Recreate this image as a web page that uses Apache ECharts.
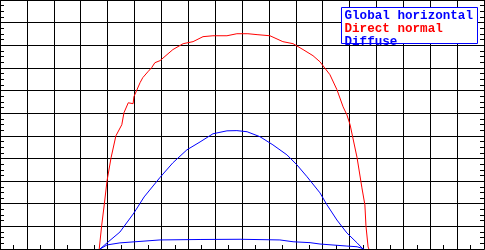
<!DOCTYPE html>
<html>
<head>
<meta charset="utf-8">
<script src="https://cdn.jsdelivr.net/npm/echarts@6/dist/echarts.min.js"></script>
<style>
html,body{margin:0;padding:0;background:#fff;}
#chart{width:485px;height:250px;}
</style>
</head>
<body>
<div id="chart"></div>
<script>
// hours of day vs irradiance (W/m2)
var seriesNames = ['Global horizontal', 'Direct normal', 'Diffuse'];
var seriesColors = ['#0000ff', '#ff0000', '#0000ff'];

var directHours = [6.69,6.78,6.88,6.98,7.13,7.31,7.53,7.61,7.77,7.95,7.98,8.21,8.31,8.50,8.64,8.76,8.95,9.43,9.81,10.18,10.55,10.92,11.44,11.81,12.22,12.56,13.04,13.52,13.90,14.27,14.64,14.90,15.27,15.53,15.76,15.90,16.02,16.28,16.46,16.57,16.61,16.69,16.72];
var directValues = [0,102,199,301,403,500,549,602,646,642,673,735,757,783,801,823,832,881,907,916,938,942,942,951,951,947,942,916,907,881,854,827,770,704,628,593,549,403,270,195,102,9,0];

var globalHours = [6.72,6.98,7.46,7.98,8.36,8.95,9.43,9.95,10.44,10.92,11.44,11.81,12.19,12.67,13.15,13.67,14.04,14.42,14.90,15.16,15.53,15.90,16.28,16.50];
var globalValues = [0,27,75,159,230,316,381,438,473,509,522,523,518,496,460,416,372,319,248,195,128,71,27,0];

var diffuseHours = [6.72,6.98,7.46,8.95,10.44,11.93,13.41,13.90,14.53,14.90,15.90,16.28,16.54];
var diffuseValues = [0,18,27,40,42,43,40,32,28,22,13,10,0];

function pairs(xs, ys) { return xs.map(function (x, i) { return [x, ys[i]]; }); }

var chart = echarts.init(document.getElementById('chart'));

function xAx(pos, grid) {
  return {
    type: 'value', min: 3, max: 21, interval: 1, position: pos,
    axisLine: { show: true, lineStyle: { color: '#000', width: 1 } },
    axisTick: { show: false },
    minorTick: { show: true, splitNumber: 2, length: 4, lineStyle: { color: '#000', width: 1 } },
    axisLabel: { show: false },
    splitLine: { show: grid, lineStyle: { color: '#000', width: 1 } },
    minorSplitLine: { show: false }
  };
}
function yAx(pos, grid) {
  return {
    type: 'value', min: 0, max: 1100, interval: 100, position: pos,
    axisLine: { show: true, lineStyle: { color: '#000', width: 1 } },
    axisTick: { show: false },
    minorTick: { show: true, splitNumber: 4, length: 4, lineStyle: { color: '#000', width: 1 } },
    axisLabel: { show: false },
    splitLine: { show: grid, lineStyle: { color: '#000', width: 1 } },
    minorSplitLine: { show: false }
  };
}

var tickFix = function (ax) { ax.minorTick.inside = true; return ax; };

var option = {
  animation: false,
  backgroundColor: '#fff',
  grid: { left: 0, right: 1, top: 0, bottom: 1, containLabel: false },
  xAxis: [xAx('bottom', true), xAx('top', false)].map(function (a) { a.axisTick = { show: false, inside: true }; return a; }),
  yAxis: [yAx('left', true), yAx('right', false)].map(function (a) { a.axisTick = { show: false, inside: true }; return a; }),
  graphic: [{
    type: 'rect', z: 100,
    shape: { x: 341.5, y: 7.5, width: 136, height: 36 },
    style: { fill: '#fff', stroke: '#0000ff', lineWidth: 1 }
  }],
  legend: {
    orient: 'vertical', left: 339.5, top: 9.5, padding: 0, itemGap: 0,
    itemWidth: 0, itemHeight: 10.5, icon: 'none', z: 200,
    textStyle: { fontFamily: 'Liberation Mono', fontWeight: 'bold', fontSize: 12.6, lineHeight: 10.5 },
    data: seriesNames.map(function (n, i) { return { name: n, textStyle: { color: seriesColors[i] } }; }),
    selectedMode: false
  },
  series: [
    { name: seriesNames[0], type: 'line', showSymbol: false, data: pairs(globalHours, globalValues), lineStyle: { color: seriesColors[0], width: 1 }, itemStyle: { color: seriesColors[0] } },
    { name: seriesNames[1], type: 'line', showSymbol: false, data: pairs(directHours, directValues), lineStyle: { color: seriesColors[1], width: 1 }, itemStyle: { color: seriesColors[1] } },
    { name: seriesNames[2], type: 'line', showSymbol: false, data: pairs(diffuseHours, diffuseValues), lineStyle: { color: seriesColors[2], width: 1 }, itemStyle: { color: seriesColors[2] } }
  ]
};
option.xAxis.forEach(tickFix);
option.yAxis.forEach(tickFix);
chart.setOption(option);
</script>
</body>
</html>
